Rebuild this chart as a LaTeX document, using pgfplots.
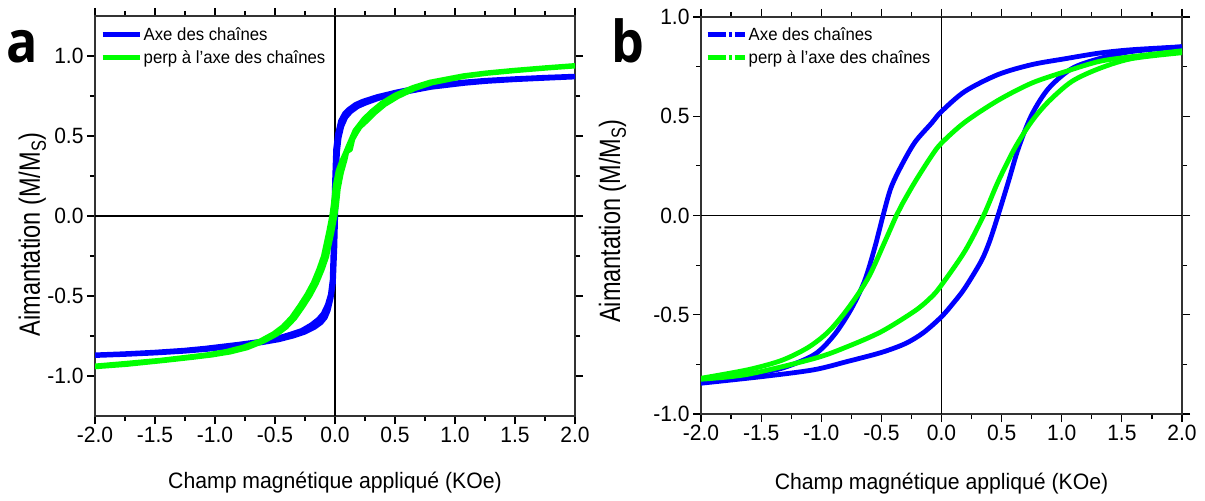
\documentclass[border=0pt]{standalone}
\usepackage{fontspec}
\setmainfont{Liberation Sans}[FakeStretch=0.95]
\newfontfamily\ylabfont{Liberation Sans}[FakeStretch=0.8]
\newfontfamily\panelfont{Open Sans}[FakeStretch=0.9]
\usepackage{pgfplots}
\pgfplotsset{compat=1.18}
\definecolor{cblue}{RGB}{0,0,255}
\definecolor{cgreen}{RGB}{0,255,0}
\pgfplotsset{
  myax/.style={
    scale only axis,
    xmin=-2, xmax=2,
    xtick={-2,-1.5,-1,-0.5,0,0.5,1,1.5,2},
    xticklabels={-2.0,-1.5,-1.0,-0.5,0.0,0.5,1.0,1.5,2.0},
    ytick={-1,-0.5,0,0.5,1},
    yticklabels={-1.0,-0.5,0.0,0.5,1.0},
    minor x tick num=1, minor y tick num=1,
    tick align=outside,
    major tick length=8bp, minor tick length=5bp,
    axis line style={line width=1.4bp, black!80},
    every tick/.style={black, line width=1.2bp},
    tick label style={font=\fontsize{22.2}{26}\selectfont},
    xlabel style={font=\fontsize{22.4}{26}\selectfont},
    ylabel style={font=\ylabfont\fontsize{29.5}{34}\selectfont, anchor=base},
    legend cell align=left,
    legend style={draw=none, fill=none, font=\fontsize{17.7}{21}\selectfont,
      at={(0,1)}, anchor=north west, inner xsep=0pt, inner ysep=0pt,
      row sep=5bp, column sep=0pt,
      nodes={inner xsep=1.5bp, inner ysep=1.5bp}},
  },
  leftleg/.style={legend image code/.code={\draw[line width=5bp] (0bp,0bp) -- (37bp,0bp);}},
  rightleg/.style={legend image code/.code={\draw[line width=5bp, dash pattern=on 18bp off 3bp on 3bp off 3bp on 10bp] (0bp,0bp) -- (37bp,0bp);}},
}
\begin{document}
\begin{tikzpicture}
\useasboundingbox (0,0) rectangle (1205bp,501bp);
% ---------------- panel a ----------------
\begin{axis}[myax, at={(95bp,85bp)}, anchor=south west, width=480bp, height=400bp,
  ymin=-1.25, ymax=1.25,
  xlabel={Champ magnétique appliqué (KOe)},
  xlabel style={at={(axis description cs:0.5,0)}, anchor=base, yshift=-72bp},
  ylabel={Aimantation (M/M\textsubscript{S})},
  ylabel style={at={(axis description cs:-0.1146,0.454)}},
  legend style={xshift=5bp, yshift=-10bp}]
\addplot[black, line width=1.4bp, forget plot] coordinates {(0,-1.25) (0,1.25)};
\addplot[black, line width=1.4bp, forget plot] coordinates {(-2,0) (2,0)};
\addplot[cblue, line width=4.5bp, line join=round, leftleg] coordinates {
(2,0.875) (1.75,0.868) (1.49,0.859) (1.25,0.849) (1.07,0.838) (0.79,0.815) (0.65,0.797) (0.51,0.776) (0.35,0.747) (0.23,0.718) (0.17,0.698) (0.115,0.668) (0.08,0.643) (0.045,0.595) (0.02,0.515) (0.004,0.42) (-0.006,0.2) (-0.011,0) (-0.017,-0.2) (-0.025,-0.40) (-0.04,-0.49) (-0.065,-0.555) (-0.1,-0.61) (-0.14,-0.645) (-0.2,-0.68) (-0.28,-0.715) (-0.36,-0.735) (-0.47,-0.76) (-0.6,-0.78) (-0.8,-0.80) (-1.08,-0.825) (-1.26,-0.838) (-1.5,-0.85) (-1.76,-0.86) (-2,-0.867)
(-2,-0.873) (-1.75,-0.866) (-1.49,-0.857) (-1.25,-0.846) (-1.07,-0.835) (-0.79,-0.812) (-0.6,-0.792) (-0.47,-0.775) (-0.35,-0.752) (-0.25,-0.727) (-0.17,-0.697) (-0.115,-0.667) (-0.08,-0.635) (-0.055,-0.59) (-0.03,-0.51) (-0.012,-0.42) (0.0,-0.2) (0.007,0) (0.013,0.2) (0.022,0.40) (0.036,0.49) (0.058,0.56) (0.09,0.615) (0.13,0.65) (0.19,0.683) (0.25,0.703) (0.36,0.733) (0.52,0.763) (0.66,0.783) (0.8,0.803) (1.08,0.828) (1.26,0.84) (1.5,0.851) (1.76,0.86) (2,0.868)
};
\addlegendentry{Axe des chaînes}
\addplot[cgreen, line width=4.5bp, line join=round, leftleg] coordinates {
(2,0.942) (1.75,0.928) (1.49,0.912) (1.25,0.895) (1.07,0.878) (0.79,0.838) (0.65,0.805) (0.5,0.757) (0.39,0.707) (0.31,0.658) (0.24,0.608) (0.165,0.535) (0.11,0.44) (0.085,0.395) (0.055,0.345) (0.025,0.285) (0.0,0.19) (-0.015,0.08) (-0.029,0.0) (-0.055,-0.10) (-0.098,-0.25) (-0.135,-0.33) (-0.182,-0.416) (-0.235,-0.49) (-0.295,-0.56) (-0.365,-0.635) (-0.435,-0.69) (-0.515,-0.735) (-0.625,-0.78) (-0.765,-0.818) (-0.905,-0.845) (-1.06,-0.865) (-1.215,-0.879) (-1.455,-0.9) (-1.765,-0.921) (-2,-0.936)
(-2,-0.944) (-1.735,-0.929) (-1.425,-0.905) (-1.185,-0.885) (-1.03,-0.871) (-0.875,-0.852) (-0.735,-0.826) (-0.595,-0.784) (-0.485,-0.74) (-0.405,-0.695) (-0.335,-0.64) (-0.265,-0.565) (-0.205,-0.495) (-0.152,-0.42) (-0.105,-0.335) (-0.068,-0.255) (-0.025,-0.105) (0.001,0.0) (0.015,0.07) (0.029,0.17) (0.055,0.27) (0.085,0.35) (0.1,0.40) (0.13,0.415) (0.15,0.48) (0.18,0.52) (0.21,0.555) (0.265,0.593) (0.335,0.645) (0.415,0.695) (0.525,0.745) (0.665,0.795) (0.805,0.83) (1.085,0.872) (1.265,0.89) (1.505,0.907) (1.765,0.923) (2,0.936)
};
\addlegendentry{perp à l{\char"27}axe des chaînes}
\end{axis}
% ---------------- panel b ----------------
\begin{axis}[myax, at={(701bp,87bp)}, anchor=south west, width=481bp, height=397bp,
  ymin=-1, ymax=1,
  xlabel={Champ magnétique appliqué (KOe)},
  xlabel style={at={(axis description cs:0.5,0)}, anchor=base, yshift=-75bp},
  ylabel={Aimantation (M/M\textsubscript{S})},
  ylabel style={at={(axis description cs:-0.1684,0.486)}},
  legend style={xshift=4bp, yshift=-9bp}]
\addplot[black, line width=1.4bp, forget plot] coordinates {(0,-1) (0,1)};
\addplot[black, line width=1.4bp, forget plot] coordinates {(-2,0) (2,0)};
\addplot[cblue, line width=4.8bp, smooth, tension=0.5, line join=round, rightleg] coordinates {
(2.0,0.85) (1.58,0.835) (1.31,0.818) (1.03,0.79) (0.75,0.76) (0.47,0.71) (0.194,0.625) (0.0,0.524) (-0.083,0.465) (-0.22,0.37) (-0.33,0.255) (-0.42,0.14) (-0.486,0.0) (-0.556,-0.164) (-0.64,-0.33) (-0.75,-0.47) (-0.89,-0.60) (-1.056,-0.70) (-1.33,-0.77) (-1.61,-0.80) (-2.0,-0.836)
};
\addlegendentry{Axe des chaînes}
\addplot[cblue, line width=4.8bp, smooth, tension=0.5, line join=round, forget plot] coordinates {
(-2.0,-0.845) (-1.47,-0.81) (-1.06,-0.777) (-0.78,-0.735) (-0.5,-0.69) (-0.3,-0.645) (-0.15,-0.59) (0.0,-0.51) (0.1,-0.44) (0.194,-0.366) (0.33,-0.23) (0.40,-0.13) (0.47,0.0) (0.556,0.17) (0.64,0.34) (0.75,0.507) (0.89,0.64) (1.083,0.74) (1.31,0.79) (1.58,0.826) (2.0,0.85)
};
\addplot[cgreen, line width=4.8bp, smooth, tension=0.5, line join=round, rightleg] coordinates {
(2.0,0.83) (1.58,0.80) (1.31,0.776) (1.03,0.725) (0.75,0.667) (0.47,0.58) (0.194,0.47) (0.0,0.365) (-0.083,0.30) (-0.22,0.17) (-0.33,0.054) (-0.375,0.0) (-0.47,-0.13) (-0.61,-0.315) (-0.78,-0.47) (-0.94,-0.585) (-1.11,-0.665) (-1.33,-0.73) (-1.61,-0.777) (-2.0,-0.82)
};
\addlegendentry{perp à l{\char"27}axe des chaînes}
\addplot[cgreen, line width=4.8bp, smooth, tension=0.5, line join=round, forget plot] coordinates {
(-2.0,-0.825) (-1.61,-0.80) (-1.056,-0.72) (-0.78,-0.66) (-0.5,-0.585) (-0.22,-0.48) (-0.083,-0.41) (0.0,-0.35) (0.194,-0.18) (0.35,0.0) (0.47,0.17) (0.61,0.34) (0.75,0.474) (0.89,0.574) (1.083,0.675) (1.31,0.74) (1.58,0.79) (2.0,0.82)
};
\end{axis}
\node[anchor=base west, inner sep=0pt, font=\panelfont\bfseries\fontsize{58}{60}\selectfont] at (6bp,438bp) {a};
\node[anchor=base west, inner sep=0pt, font=\panelfont\bfseries\fontsize{58}{60}\selectfont] at (611bp,438bp) {b};
\end{tikzpicture}
\end{document}
